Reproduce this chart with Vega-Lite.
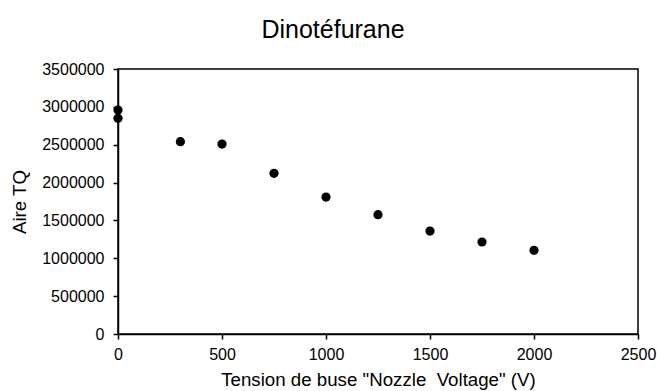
{
  "$schema": "https://vega.github.io/schema/vega-lite/v6.json",
  "autosize": "none",
  "width": 520,
  "height": 265,
  "padding": {"left": 118, "top": 69, "right": 19, "bottom": 57},
  "background": "white",
  "title": {
    "text": "Dinotéfurane",
    "font": "Liberation Sans",
    "fontSize": 25,
    "fontWeight": "normal",
    "color": "black",
    "anchor": "middle",
    "baseline": "alphabetic",
    "offset": -2,
    "dx": -45
  },
  "config": {
    "view": {"stroke": "black", "strokeWidth": 1.5},
    "axis": {
      "grid": false,
      "domainColor": "black",
      "domainWidth": 1.5,
      "tickColor": "black",
      "tickWidth": 1.5,
      "tickSize": 5,
      "labelFont": "Liberation Sans",
      "labelFontSize": 16,
      "labelColor": "black",
      "titleFont": "Liberation Sans",
      "titleFontSize": 18.7,
      "titleFontWeight": "normal",
      "titleColor": "black"
    }
  },
  "data": {
    "values": [
      {"tension": 0, "aire": 2958000},
      {"tension": 0, "aire": 2849000},
      {"tension": 300, "aire": 2540000},
      {"tension": 500, "aire": 2509000},
      {"tension": 750, "aire": 2122000},
      {"tension": 1000, "aire": 1809000},
      {"tension": 1250, "aire": 1576000},
      {"tension": 1500, "aire": 1360000},
      {"tension": 1750, "aire": 1215000},
      {"tension": 2000, "aire": 1105000}
    ]
  },
  "mark": {"type": "point", "filled": true, "shape": "circle", "size": 85, "color": "black", "opacity": 1},
  "encoding": {
    "x": {
      "field": "tension",
      "type": "quantitative",
      "scale": {"domain": [0, 2500], "nice": false, "zero": true},
      "axis": {
        "values": [0, 500, 1000, 1500, 2000, 2500],
        "format": "d",
        "title": "Tension de buse \"Nozzle\u00a0 Voltage\" (V)",
        "labelPadding": 7,
        "titlePadding": 8,
        "labelFlush": false
      }
    },
    "y": {
      "field": "aire",
      "type": "quantitative",
      "scale": {"domain": [0, 3500000], "nice": false},
      "axis": {
        "values": [0, 500000, 1000000, 1500000, 2000000, 2500000, 3000000, 3500000],
        "format": "d",
        "title": "Aire TQ",
        "labelPadding": 9,
        "titlePadding": 12,
        "labelFlush": false
      }
    }
  }
}
